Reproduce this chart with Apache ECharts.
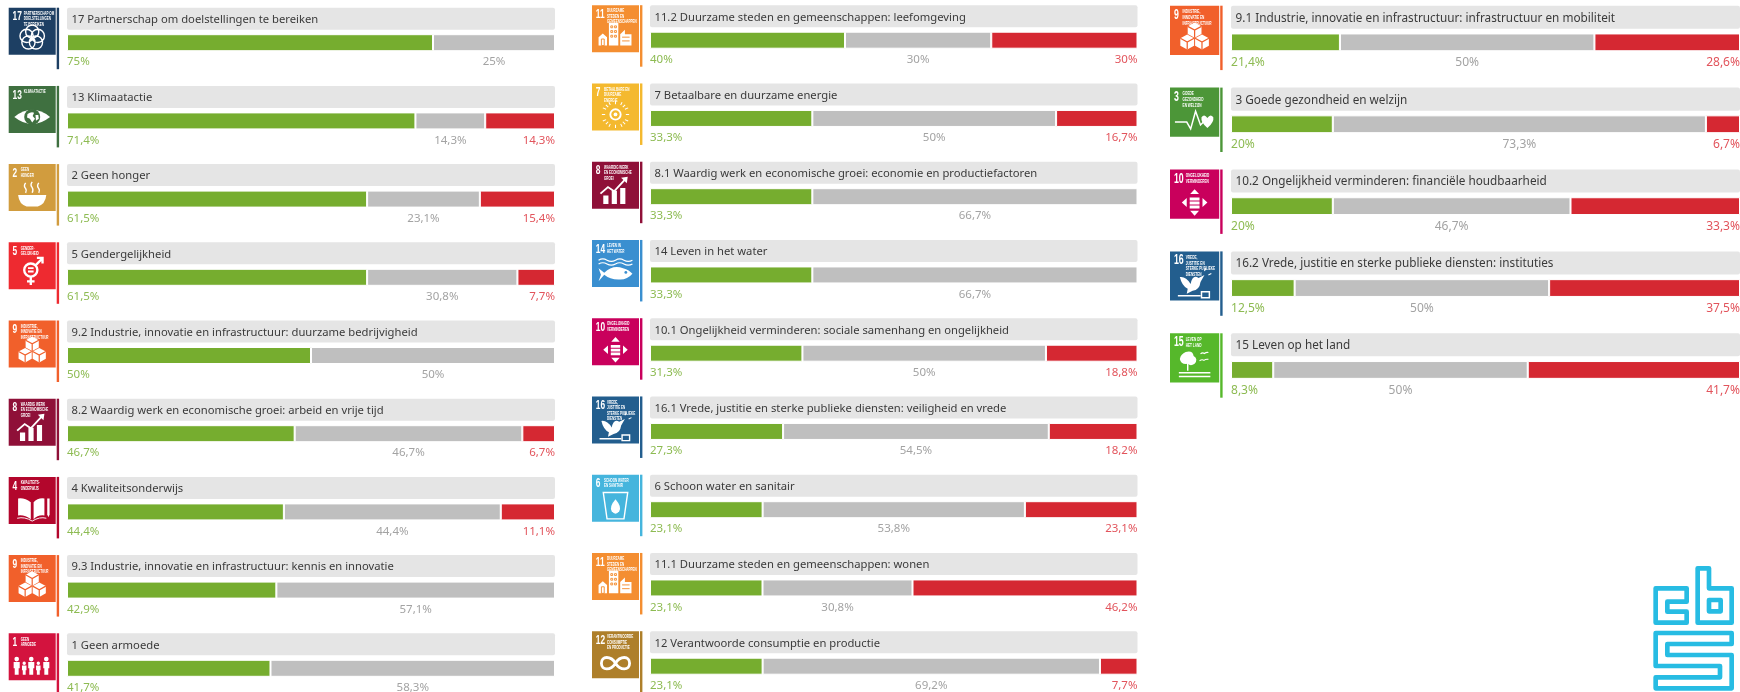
<!DOCTYPE html>
<html><head><meta charset="utf-8">
<style>html,body{margin:0;padding:0;background:#fff}#c{width:1740px;height:692px}</style>
<script src="https://cdn.jsdelivr.net/npm/echarts@6/dist/echarts.min.js"></script>
</head><body><div id="c"></div>
<script>
const titles = [
 '17 Partnerschap om doelstellingen te bereiken','13 Klimaatactie','2 Geen honger','5 Gendergelijkheid',
 '9.2 Industrie, innovatie en infrastructuur: duurzame bedrijvigheid','8.2 Waardig werk en economische groei: arbeid en vrije tijd',
 '4 Kwaliteitsonderwijs','9.3 Industrie, innovatie en infrastructuur: kennis en innovatie','1 Geen armoede',
 '11.2 Duurzame steden en gemeenschappen: leefomgeving','7 Betaalbare en duurzame energie',
 '8.1 Waardig werk en economische groei: economie en productiefactoren','14 Leven in het water',
 '10.1 Ongelijkheid verminderen: sociale samenhang en ongelijkheid','16.1 Vrede, justitie en sterke publieke diensten: veiligheid en vrede',
 '6 Schoon water en sanitair','11.1 Duurzame steden en gemeenschappen: wonen','12 Verantwoorde consumptie en productie',
 '9.1 Industrie, innovatie en infrastructuur: infrastructuur en mobiliteit','3 Goede gezondheid en welzijn',
 '10.2 Ongelijkheid verminderen: financiële houdbaarheid','16.2 Vrede, justitie en sterke publieke diensten: instituties','15 Leven op het land'];
const greenValues = [75,71.4,61.5,61.5,50,46.7,44.4,42.9,41.7, 40,33.3,33.3,33.3,31.3,27.3,23.1,23.1,23.1, 21.4,20,20,12.5,8.3];
const greyValues  = [25,14.3,23.1,30.8,50,46.7,44.4,57.1,58.3, 30,50,66.7,66.7,50,54.5,53.8,30.8,69.2, 50,73.3,46.7,50,50];
const redValues   = [0,14.3,15.4,7.7,0,6.7,11.1,0,0, 30,16.7,0,0,18.8,18.2,23.1,46.2,7.7, 28.6,6.7,33.3,37.5,41.7];
const goals = [17,13,2,5,9,8,4,9,1, 11,7,8,14,10,16,6,11,12, 9,3,10,16,15];
const goalColors = {1:'#D3133E',2:'#D19C3E',3:'#4C9638',4:'#B3062C',5:'#EE2A30',6:'#45B5DD',7:'#F4B92F',8:'#8F1038',9:'#F1602B',10:'#C9005C',11:'#F48E31',12:'#AE7F2A',13:'#3F7040',14:'#3A8FD0',15:'#56B82B',16:'#235E8E',17:'#1D3F63'};
const goalHeads = {1:['GEEN','ARMOEDE'],2:['GEEN','HONGER'],3:['GOEDE','GEZONDHEID','EN WELZIJN'],4:['KWALITEITS-','ONDERWIJS'],5:['GENDER-','GELIJKHEID'],6:['SCHOON WATER','EN SANITAIR'],7:['BETAALBARE EN','DUURZAME','ENERGIE'],8:['WAARDIG WERK','EN ECONOMISCHE','GROEI'],9:['INDUSTRIE,','INNOVATIE EN','INFRASTRUCTUUR'],10:['ONGELIJKHEID','VERMINDEREN'],11:['DUURZAME','STEDEN EN','GEMEENSCHAPPEN'],12:['VERANTWOORDE','CONSUMPTIE','EN PRODUCTIE'],13:['KLIMAATACTIE'],14:['LEVEN IN','HET WATER'],15:['LEVEN OP','HET LAND'],16:['VREDE,','JUSTITIE EN','STERKE PUBLIEKE','DIENSTEN'],17:['PARTNERSCHAP OM','DOELSTELLINGEN','TE BEREIKEN']};

const GREEN='#76AD2F', GREY='#BFBFBF', RED='#D52832';
const columns = [
 {first:0,n:9,y0:7.7,pitch:78.2,flagX:8.7,barX:67,barW:488,k:1},
 {first:9,n:9,y0:5.2,pitch:78.25,flagX:592,barX:650,barW:487.5,k:1},
 {first:18,n:5,y0:5.7,pitch:81.9,flagX:1170,barX:1231,barW:509,k:1.047}
];
const fmt = v => String(v).replace('.',',')+'%';
const circ = (x,y,r) => `M${x-r} ${y}a${r} ${r} 0 1 0 ${2*r} 0a${r} ${r} 0 1 0 ${-2*r} 0Z`;
const person = (x,h) => { const t=88-h, r=h*0.13; return circ(x,t+r,r)+`M${x-h*.17} ${t+2*r+1}h${h*.34}v${h*.36}h-${h*.06}v${h*.36}h-${h*.22}v-${h*.36}h-${h*.06}Z`; };
const cube = (x,y,s) => `M${x} ${y}l${s} ${-s*.55}l${s} ${s*.55}v${s*1.1}l${-s} ${s*.55}l${-s} ${-s*.55}Z`;
const cubeLine = (x,y,s) => `M${x} ${y}l${s} ${s*.55}l${s} ${-s*.55}M${x+s} ${y+s*.55}v${s*1.1}`;
const icons = {};
icons[17]=[[ [[50,51],[62,60],[58,74],[42,74],[38,60]].map(p=>circ(p[0],p[1],14)).join(''),'s',3 ]];
icons[13]=[['M12 66Q50 36 88 66Q50 96 12 66Z','f'],[circ(50,66,17),'b'],['M40 60q8 -6 14 -3l-3 7l5 6l-6 8l-5 -8l-6 -3ZM57 62l6 0l1 8l-6 4Z','f']];
icons[2]=[['M20 66H80Q78 86 62 90H38Q22 86 20 66Z','f'],['M36 40q-5 7 0 12q3 4 0 9M50 38q-5 7 0 12q3 4 0 11M64 40q-5 7 0 12q3 4 0 9','s',3]];
icons[5]=[[circ(47,59,14),'s',5],['M41 55h12M41 62h12','s',4],['M47 73v18M39 83h16','s',5],['M57 49L72 34M60 33h12v12','s',5]];
icons[9]=[[cube(36,42,14)+cube(21,66,14)+cube(51,66,14),'f'],[cubeLine(36,42,14)+cubeLine(21,66,14)+cubeLine(51,66,14),'k',2.5]];
icons[8]=[['M24 90V72h11v18ZM42 90V62h11v28ZM60 90V56h11v34Z','f'],['M18 68L34 54L47 63L72 36','s',4],['M62 34L76 32L74 46Z','f']];
icons[4]=[['M20 46Q34 44 47 54V90Q34 80 20 82ZM53 54Q62 44 76 46V82Q62 80 53 90Z','f'],['M82 46h5v34l-2.5 6l-2.5 -6Z','f'],['M18 88Q34 84 50 94Q66 84 80 88','s',2]];
icons[1]=[[person(17,38)+person(33,28)+person(48,38)+person(63,28)+person(80,38),'f']];
icons[11]=[['M36 86V38h20v48ZM60 86V62l10 -10v10h14v24ZM14 86V68l9 -8l9 8v18Z','f'],['M40 44h4v4h-4ZM48 44h4v4h-4ZM40 54h4v4h-4ZM48 54h4v4h-4ZM40 64h4v4h-4ZM48 64h4v4h-4ZM64 68h16M64 76h16M20 72h6v14h-6Z','k',2]];
icons[7]=[[circ(50,66,11),'s',4],[circ(50,66,4),'f'],['M50 44v-7M50 88v7M28 66h-7M72 66h7M34.5 50.5l-5 -5M65.5 81.5l5 5M34.5 81.5l-5 5M65.5 50.5l5 -5M39 46l-3 -6M61 86l3 6M39 86l-3 6M61 46l3 -6M30 55l-7 -3M70 77l7 3M30 77l-7 3M70 55l7 -3','s',2.2]];
icons[6]=[['M24 38H76L68 94H32Z','s',3],['M50 52Q64 68 58 78Q50 88 42 78Q36 68 50 52Z','f']];
icons[10]=[['M50 40l9 10h-18ZM50 94l9 -10h-18ZM24 67l10 -9v18ZM76 67l-10 -9v18ZM40 57h20v6h-20ZM40 65h20v6h-20ZM40 73h20v6h-20Z','f']];
icons[12]=[['M50 68C40 52 20 52 20 68S40 84 50 68S80 52 80 68S60 84 50 68Z','s',6]];
icons[14]=[['M14 43q9 -5 18 0t18 0t18 0t18 0M14 51q9 -5 18 0t18 0t18 0t18 0','s',2.6],['M14 60L26 70Q44 52 66 60Q80 64 86 72Q74 86 56 84Q38 84 26 74L14 88L19 74Z','f'],[circ(72,69,3),'b']];
icons[15]=[['M32 38Q46 34 48 46Q58 52 50 62Q42 68 36 62Q22 64 20 52Q22 42 32 38Z','f'],['M36 60v16','s',3],['M18 80H82M18 88H82','s',3],['M62 42q4 -4 8 -1q4 -3 8 -2M60 56q5 -4 9 -1q4 -3 9 -2','s',2.2]];
icons[16]=[['M20 52Q32 50 42 66Q46 46 58 54L70 48L62 62Q60 78 46 80L34 86L36 76Q24 70 20 52Z','f'],['M16 90H62M64 82h16v12h-16Z','s',3],['M70 40l3 -6M78 48l6 -3','s',2.2]];
icons[3]=[['M10 70H34L42 84L52 48L62 76L68 70','s',3],['M76 62Q70 52 64 60Q62 70 76 82Q90 70 88 60Q82 52 76 62Z','f']];

const grid=[],xAxis=[],yAxis=[],series=[],graphic=[],iconEls=[];
columns.forEach(col=>{
 for(let j=0;j<col.n;j++){
  const i=col.first+j, k=col.k, y=col.y0+j*col.pitch, c=goalColors[goals[i]];
  const fs=47*k, titleH=22*k, barTop=y+26.5*k, barH=17*k, flagRight=col.flagX+fs;
  graphic.push({type:'rect',silent:true,shape:{x:col.flagX,y:y,width:fs,height:fs},style:{fill:c}});
  graphic.push({type:'rect',silent:true,shape:{x:flagRight+1,y:y,width:2.4,height:61.5*k},style:{fill:c}});
  const sc=fs/100;
  (icons[goals[i]]||[]).forEach(l=>{
   const mode=l[1];
   const st= mode==='f'?{fill:'#fff'}: mode==='b'?{fill:c}: mode==='s'?{fill:'none',stroke:'#fff',lineWidth:l[2]}:{fill:'none',stroke:c,lineWidth:l[2]};
   iconEls.push({type:'path',silent:true,x:col.flagX,y:y,scaleX:sc,scaleY:sc,shape:{pathData:l[0]},style:st});
  });
  const num=String(goals[i]);
  graphic.push({type:'text',silent:true,x:col.flagX+3.8*k,y:y+2*k,scaleX:.62,style:{text:num,fill:'#fff',font:`bold ${13.5*k}px "Liberation Sans", sans-serif`}});
  const hx=col.flagX+(num.length>1?15:12)*k;
  goalHeads[goals[i]].forEach((h,n)=>graphic.push({type:'text',silent:true,x:hx,y:y+3.4*k+n*5.5*k,scaleX:.6,style:{text:h,fill:'#fff',font:`bold ${5*k}px "Liberation Sans", sans-serif`}}));
  graphic.push({type:'rect',silent:true,shape:{x:col.barX,y:y,width:col.barW,height:titleH,r:2},style:{fill:'#E5E5E5'}});
  graphic.push({type:'text',silent:true,x:col.barX+4.5,y:y+titleH/2+1,scaleX:.97,style:{text:titles[i],fill:'#3A3A3A',font:`${11.6*k}px "Noto Sans"`,textVerticalAlign:'middle'}});
  const g=grid.length;
  grid.push({left:col.barX,top:barTop,width:col.barW,height:barH});
  xAxis.push({gridIndex:g,type:'value',min:0,max:greenValues[i]+greyValues[i]+redValues[i],show:false});
  yAxis.push({gridIndex:g,type:'category',data:[titles[i]],show:false});
  const lblY=barH+5*k;
  const mk=(name,v,color,lc,pos,align)=>series.push({name,type:'bar',stack:'r'+i,xAxisIndex:g,yAxisIndex:g,barWidth:'100%',data:[v],silent:true,
    itemStyle:{color,borderColor:'#fff',borderWidth:1},
    label:{show:true,fontFamily:'Noto Sans',fontSize:11.5*k,color:lc,position:[pos,lblY],align,verticalAlign:'top',formatter:p=>p.value?fmt(p.value):''}});
  mk('groen',greenValues[i],GREEN,'#8DBB52',0,'left');
  mk('grijs',greyValues[i],GREY,'#A3A3A3','50%','center');
  mk('rood',redValues[i],RED,'#E2545C','100%','right');
 }
});
series.push({type:'custom',coordinateSystem:'none',silent:true,z:50,data:[[0]],renderItem:()=>({type:'group',children:iconEls})});
const logoPts=[
 [[167,145],[260,145],[260,185],[202,185],[202,215],[260,215],[260,248],[167,248]],
 [[293,85],[327,85],[327,145],[395,145],[395,248],[293,248]],
 [[327,180],[362,180],[362,214],[327,214]],
 [[167,279],[395,279],[395,312],[202,312],[202,345],[395,345],[395,445],[167,445],[167,412],[360,412],[360,378],[167,378]]
];
logoPts.forEach(p=>graphic.push({type:'polygon',silent:true,x:1600,y:540,scaleX:1/3,scaleY:1/3,shape:{points:p},style:{fill:'none',stroke:'#27BCE3',lineWidth:14,lineJoin:'round'}}));

const chart=echarts.init(document.getElementById('c'),null,{renderer:'canvas'});
chart.setOption({animation:false,backgroundColor:'#fff',grid,xAxis,yAxis,series,graphic:{elements:graphic},tooltip:{show:false},legend:{show:false}});
</script></body></html>
